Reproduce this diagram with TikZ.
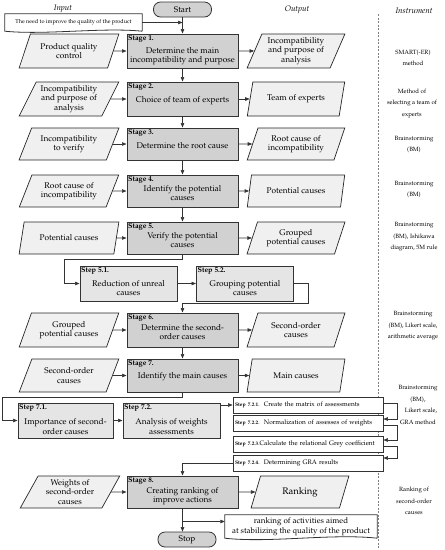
\documentclass[tikz,border=0pt]{standalone}
\usepackage[T1]{fontenc}
\usepackage{mathpazo}
\usetikzlibrary{arrows.meta,shapes.geometric,calc}
\definecolor{stagefill}{gray}{0.82}
\definecolor{stepfill}{gray}{0.9}
\definecolor{iofill}{gray}{0.94}
\definecolor{edgecol}{gray}{0.2}
\newcommand\sublabfont{\fontsize{5.2}{6}\selectfont\bfseries}
\begin{document}
\begin{tikzpicture}[x=1pt,y=-1pt,
  txt/.style={font=\fontsize{8.3}{9.6}\selectfont, align=center, inner sep=0pt},
  stagebox/.style={draw=edgecol, line width=1pt, fill=stagefill, minimum width=111pt, inner sep=0pt},
  stagelab/.style={anchor=north west, font=\fontsize{7.3}{8}\selectfont\bfseries, inner sep=1.5pt},
  stepbox/.style={draw=edgecol, line width=1pt, fill=stepfill, minimum width=97pt, minimum height=35pt, inner sep=0pt},
  inbox/.style={trapezium, trapezium left angle=62, trapezium right angle=118, trapezium stretches=true, draw=black!85, line width=0.7pt, fill=iofill, minimum width=100pt, txt},
  outbox/.style={trapezium, trapezium left angle=66, trapezium right angle=114, trapezium stretches=true, draw=black!85, line width=0.7pt, fill=iofill, minimum width=98pt, txt},
  terminal/.style={draw=edgecol, line width=0.8pt, fill=stagefill, rounded corners=7pt, minimum width=58pt, minimum height=15pt, txt},
  substep/.style={draw=edgecol, line width=0.8pt, fill=white, minimum width=150pt, minimum height=16pt, text width=146pt, align=left, inner xsep=2pt, inner ysep=0pt, font=\fontsize{6.5}{8}\selectfont},
  arr/.style={-{Triangle[length=4.5pt,width=3.5pt]}, line width=0.6pt, draw=edgecol},
  instr/.style={font=\fontsize{6.1}{11.5}\selectfont, align=center, inner sep=0pt},
  head/.style={font=\fontsize{8}{9}\selectfont\itshape, inner sep=0pt},
  docbox/.style={inner sep=0pt, align=center},
  docline/.style={draw=edgecol, line width=0.8pt}
]
\useasboundingbox (0,0) rectangle (445,550);

% headers
\node[head] (hin) at (63,9) {Input};
\node[head] (hout) at (297,10) {Output};
\node[head] (hins) at (414,11) {Instrument};
\draw[gray, line width=0.5pt, dash pattern=on 2pt off 1.5pt] (378,14) -- (378,550);

% start and first document
\node[terminal] (start) at (182.5,9.5) {Start};
\node[docbox, minimum width=137pt, minimum height=17pt, font=\fontsize{5.6}{7}\selectfont] (doc1) at (73.5,22.5) {The need to improve the quality of the product};
\draw[docline] (doc1.south east) -- (doc1.north east) -- (doc1.north west) -- (doc1.south west) .. controls +(40,4) and +(-40,-4) .. (doc1.south east);

% stages
\node[stagebox, minimum height=34pt] (s1) at (182.5,51) {};
\node[stagebox, minimum height=34pt] (s2) at (182.5,99) {};
\node[stagebox, minimum height=32pt] (s3) at (182.5,144) {};
\node[stagebox, minimum height=32pt] (s4) at (182.5,191) {};
\node[stagebox, minimum height=32pt] (s5) at (182.5,238) {};
\node[stagebox, minimum height=34pt] (s6) at (182.5,330) {};
\node[stagebox, minimum height=33pt] (s7) at (182.5,375.5) {};
\node[stagebox, minimum height=32pt] (s8) at (182.5,492) {};

\node[stagelab] (s1l) at (s1.north west) {Stage 1.};
\node[stagelab] (s2l) at (s2.north west) {Stage 2.};
\node[stagelab] (s3l) at (s3.north west) {Stage 3.};
\node[stagelab] (s4l) at (s4.north west) {Stage 4.};
\node[stagelab] (s5l) at (s5.north west) {Stage 5.};
\node[stagelab] (s6l) at (s6.north west) {Stage 6.};
\node[stagelab] (s7l) at (s7.north west) {Stage 7.};
\node[stagelab] (s8l) at (s8.north west) {Stage 8.};

\node[txt] (s1t) at ([yshift=-5pt]s1.center) {Determine the main\\incompatibility and purpose};
\node[txt] (s2t) at ([yshift=-1.5pt]s2.center) {Choice of team of experts};
\node[txt] (s3t) at ([yshift=-1.5pt]s3.center) {Determine the root cause};
\node[txt] (s4t) at ([yshift=-2pt]s4.center) {Identify the potential\\causes};
\node[txt] (s5t) at ([yshift=-2pt]s5.center) {Verify the potential\\causes};
\node[txt] (s6t) at ([yshift=-2pt]s6.center) {Determine the second-\\order causes};
\node[txt] (s7t) at ([yshift=-1.5pt]s7.center) {Identify the main causes};
\node[txt] (s8t) at ([yshift=-4pt]s8.center) {Creating ranking of\\improve actions};

% inputs
\node[inbox, minimum height=34pt] (i1) at (69,51) {Product quality\\control};
\node[inbox, minimum height=34pt] (i2) at (69,99) {Incompatibility\\and purpose of\\analysis};
\node[inbox, minimum height=32pt] (i3) at (69,144) {Incompatibility\\to verify};
\node[inbox, minimum height=32pt] (i4) at (69,191) {Root cause of\\incompatibility};
\node[inbox, minimum height=32pt] (i5) at (69,238) {Potential causes};
\node[inbox, minimum height=34pt] (i6) at (69,330) {Grouped\\potential causes};
\node[inbox, minimum height=33pt] (i7) at (69,375.5) {Second-order\\causes};
\node[inbox, minimum height=32pt] (i8) at (70,492) {Weights of\\second-order\\causes};

% outputs
\node[outbox, minimum height=34pt] (o1) at (296,51) {Incompatibility\\and purpose of\\analysis};
\node[outbox, minimum height=34pt] (o2) at (296,99) {Team of experts};
\node[outbox, minimum height=32pt] (o3) at (296,144) {Root cause of\\incompatibility};
\node[outbox, minimum height=32pt] (o4) at (296,191) {Potential causes};
\node[outbox, minimum height=32pt] (o5) at (296,238) {Grouped\\potential causes};
\node[outbox, minimum height=34pt] (o6) at (296,330) {Second-order\\causes};
\node[outbox, minimum height=33pt] (o7) at (296,375.5) {Main causes};
\node[outbox, minimum height=32pt, font=\fontsize{9.5}{11}\selectfont] (o8) at (300,492) {Ranking};

% instruments
\node[instr] (n1) at (413,58) {SMART(-ER)\\method};
\node[instr] (n2) at (412,103.5) {Method of\\selecting a team of\\experts};
\node[instr] (n3) at (414,144.5) {Brainstorming\\(BM)};
\node[instr] (n4) at (414,189.5) {Brainstorming\\(BM)};
\node[instr] (n5) at (414,237) {Brainstorming\\(BM), Ishikawa\\diagram, 5M rule};
\node[instr] (n6) at (413,326) {Brainstorming\\(BM), Likert scale,\\arithmetic average};
\node[instr] (n7) at (418,405) {Brainstorming\\(BM),\\\hspace*{6pt}Likert scale,\\GRA method};
\node[instr] (n8) at (414,501) {Ranking of\\second-order\\causes};

% steps
\node[stepbox] (st51) at (128.5,283.5) {};
\node[stepbox] (st52) at (245,283.5) {};
\node[stepbox, minimum width=95pt] (st71) at (65.5,420.5) {};
\node[stepbox] (st72) at (171.5,420.5) {};
\node[stagelab] (st51l) at (st51.north west) {Step 5.1.};
\node[stagelab] (st52l) at (st52.north west) {Step 5.2.};
\node[stagelab] (st71l) at (st71.north west) {Step 7.1.};
\node[stagelab] (st72l) at (st72.north west) {Step 7.2.};
\node[txt] (st51t) at ([yshift=-4.5pt]st51.center) {Reduction of unreal\\causes};
\node[txt] (st52t) at ([yshift=-4.5pt]st52.center) {Grouping potential\\causes};
\node[txt] (st71t) at ([yshift=-6pt]st71.center) {Importance of second-\\order causes};
\node[txt] (st72t) at ([yshift=-6pt]st72.center) {Analysis of weights\\assessments};

% sub-steps
\node[substep] (t1) at (308,405) {\mbox{{\sublabfont Step 7.2.1.}\ \ Create the matrix of assessments}};
\node[substep] (t2) at (308,423) {\mbox{{\sublabfont Step 7.2.2.}\ \ Normalization of assesses of weights}};
\node[substep] (t3) at (308,444) {\mbox{{\sublabfont Step 7.2.3.}Calculate the relational Grey coefficient}};
\node[substep] (t4) at (308,463) {\mbox{{\sublabfont Step 7.2.4.}\ \ Determining GRA results}};

% stop and final document
\node[terminal] (stop) at (187,539.5) {Stop};
\node[docbox, minimum width=152pt, minimum height=23pt, font=\fontsize{8}{10.5}\selectfont] (doc2) at (301,526.5) {ranking of activities aimed\\at stabilizing the quality of the product};
\draw[docline] (doc2.south east) -- (doc2.north east) -- (doc2.north west) -- (doc2.south west) .. controls +(45,5) and +(-45,-5) .. (doc2.south east);

% connectors
\draw[arr] (start.south) -- (s1.north);
\draw[arr] (doc1.east) -- (doc1.east -| start.south);
\foreach \k in {1,...,8} {
  \draw[arr] (i\k.east) -- (s\k.west);
  \draw[arr] (s\k.east) -- (o\k.west);
}
\draw[arr] (s1.south) -- (s2.north);
\draw[arr] (s2.south) -- (s3.north);
\draw[arr] (s3.south) -- (s4.north);
\draw[arr] (s4.south) -- (s5.north);
\draw[arr] (s6.south) -- (s7.north);

\draw[arr] (s5.south) -- ++(0,5) -| ([xshift=-15pt]st51.west) -- (st51.west);
\draw[arr] (st51.east) -- (st52.west);
\draw[arr] (st52.east) -- ++(14,0) |- ([yshift=9pt]s6.north) -- (s6.north);

\draw[arr] (s7.south) -- ++(0,5) -| ([xshift=-15pt]st71.west) -- (st71.west);
\draw[arr] (st71.east) -- (st72.west);
\draw[arr] (t1.west -| st72.east) -- (t1.west);
\draw[arr] ([yshift=2pt]t1.east) -- ++(14,0) |- ([yshift=4pt]t2.east);
\draw[arr] ([yshift=-2pt]t2.east) -- ++(14,0) |- ([yshift=4pt]t3.east);
\draw[arr] ([yshift=-2pt]t3.east) -- ++(14,0) |- ([yshift=5pt]t4.east);
\draw[arr] (t4.west) -| (s8.north);

\draw[arr] (s8.south) -- (s8.south |- stop.north);
\coordinate (br) at ($(s8.south)+(0,13)$);
\draw[arr] (br) -- (br -| doc2.west);
\end{tikzpicture}
\end{document}
